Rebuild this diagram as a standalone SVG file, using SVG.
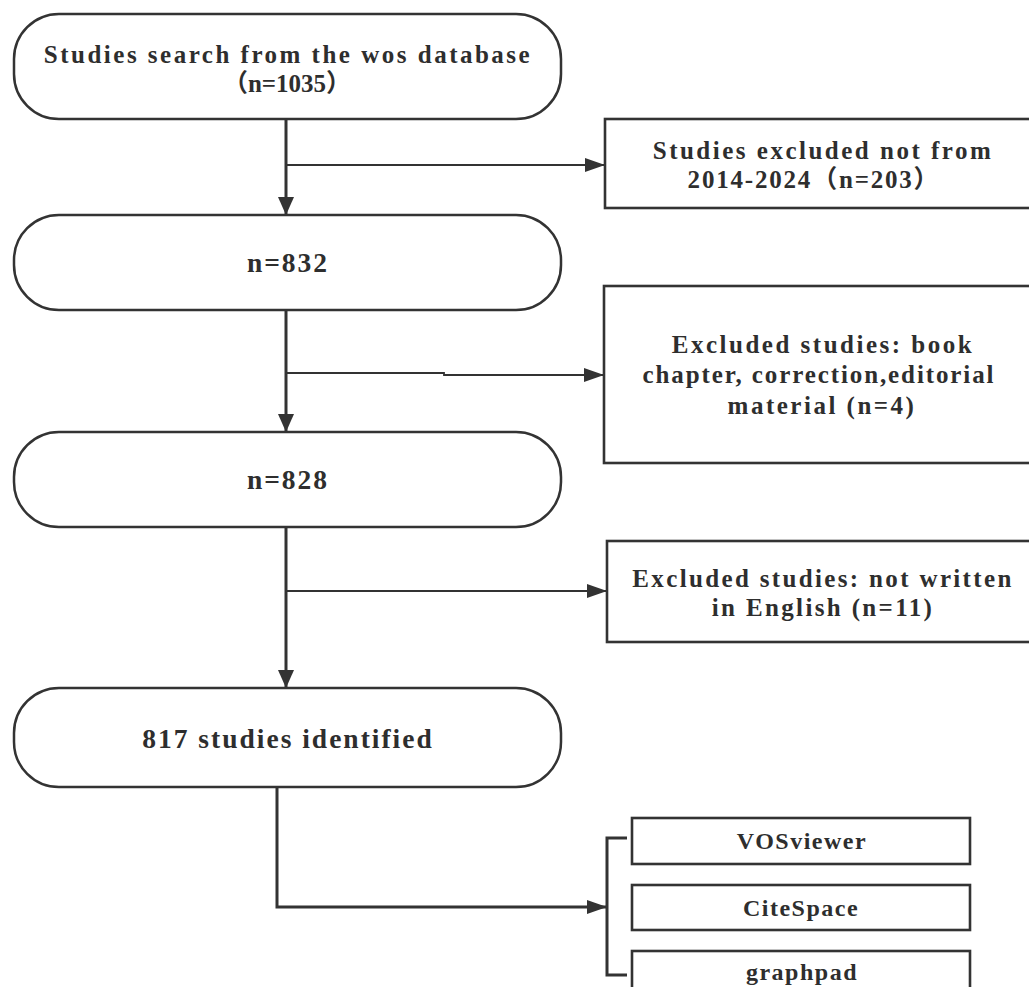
<svg xmlns="http://www.w3.org/2000/svg" width="1029" height="987" viewBox="0 0 1029 987">
<style>
.term{fill:#fff;stroke:#333;stroke-width:2.5}
.box{fill:#fff;stroke:#333;stroke-width:2.6}
.t{font-family:"Liberation Serif","Noto Sans CJK SC",serif;font-weight:bold;font-size:25px;letter-spacing:2.4px;fill:#2e2e2e;text-anchor:middle}
.big{font-size:27.5px;letter-spacing:2px}
.tool{font-size:24px;letter-spacing:1.5px}
.main{fill:none;stroke:#333;stroke-width:3}
.br{fill:none;stroke:#333;stroke-width:1.8}
</style>
<defs>
<marker id="av" markerUnits="userSpaceOnUse" viewBox="0 0 18 16" refX="18" refY="8" markerWidth="18" markerHeight="16" orient="auto"><path d="M0,0 L18,8 L0,16 z" fill="#333"/></marker>
<marker id="ah" markerUnits="userSpaceOnUse" viewBox="0 0 20 14" refX="20" refY="7" markerWidth="20" markerHeight="14" orient="auto"><path d="M0,0 L20,7 L0,14 z" fill="#333"/></marker>
</defs>
<rect width="1029" height="987" fill="#fff"/>
<g id="connectors">
<path class="main" d="M286,119 V215" marker-end="url(#av)"/>
<path class="main" d="M286,310 V432" marker-end="url(#av)"/>
<path class="main" d="M286,527 V688" marker-end="url(#av)"/>
<path class="br" d="M286,165 H605" marker-end="url(#ah)"/>
<path class="br" d="M286,373 H444 V375 H604" marker-end="url(#ah)"/>
<path class="br" d="M286,591 H607" marker-end="url(#ah)"/>
<path class="main" d="M277,787 V907 H607" marker-end="url(#ah)"/>
<path class="main" d="M627,838 H607 V975 H627"/>
</g>
<g id="n1">
<rect class="term" x="14" y="14" width="547" height="105" rx="45" ry="45"/>
<text class="t" x="288" y="63" style="letter-spacing:2.5px">Studies search from the wos database</text>
<text class="t" x="287" y="92" style="letter-spacing:0">（n=1035）</text>
</g>
<g id="n2">
<rect class="box" x="605" y="119" width="440" height="89"/>
<text class="t" x="823" y="159" style="letter-spacing:2.5px">Studies excluded not from</text>
<text class="t" x="814" y="188" style="letter-spacing:1.8px">2014-2024（n=203）</text>
</g>
<g id="n3">
<rect class="term" x="14" y="215" width="547" height="95" rx="45" ry="45"/>
<text class="t big" x="288" y="272">n=832</text>
</g>
<g id="n4">
<rect class="box" x="604" y="286" width="440" height="177"/>
<text class="t" x="823" y="353" style="letter-spacing:2.5px">Excluded studies: book</text>
<text class="t" x="819" y="383" style="letter-spacing:1.9px">chapter, correction,editorial</text>
<text class="t" x="822" y="414" style="letter-spacing:2.5px">material (n=4)</text>
</g>
<g id="n5">
<rect class="term" x="14" y="432" width="547" height="95" rx="45" ry="45"/>
<text class="t big" x="288" y="489">n=828</text>
</g>
<g id="n6">
<rect class="box" x="607" y="541" width="440" height="101"/>
<text class="t" x="823" y="587" style="letter-spacing:2.35px">Excluded studies: not written</text>
<text class="t" x="823" y="616" style="letter-spacing:2.35px">in English (n=11)</text>
</g>
<g id="n7">
<rect class="term" x="14" y="688" width="547" height="99" rx="45" ry="45"/>
<text class="t big" x="288" y="748">817 studies identified</text>
</g>
<g id="n8">
<rect class="box" x="632" y="818" width="338" height="46"/>
<text class="t tool" x="802" y="849">VOSviewer</text>
</g>
<g id="n9">
<rect class="box" x="632" y="885" width="338" height="45"/>
<text class="t tool" x="801" y="916">CiteSpace</text>
</g>
<g id="n10">
<rect class="box" x="632" y="951" width="338" height="46"/>
<text class="t tool" x="802" y="980">graphpad</text>
</g>
</svg>
